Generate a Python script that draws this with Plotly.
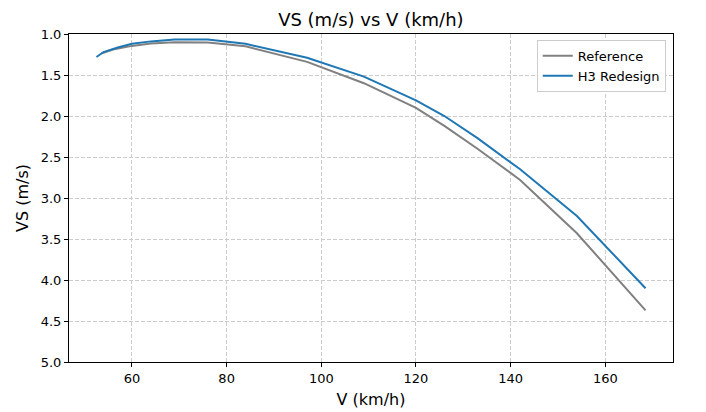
import plotly.graph_objects as go

# Reference series
ref_speed = [53.5, 56, 60, 64, 69, 76, 84, 97, 109, 120, 126, 133, 142, 154, 168.5]
ref_vs = [1.24, 1.19, 1.145, 1.115, 1.10, 1.105, 1.15, 1.34, 1.60, 1.90, 2.12, 2.40, 2.78, 3.43, 4.37]

# H3 redesign series
h3_speed = [52.5, 54, 57, 60, 64, 69, 76, 84, 97, 109, 120, 126, 133, 142, 154, 168.5]
h3_vs = [1.28, 1.22, 1.165, 1.12, 1.09, 1.068, 1.068, 1.12, 1.29, 1.52, 1.81, 2.00, 2.27, 2.65, 3.22, 4.10]

x_ticks = [60, 80, 100, 120, 140, 160]
y_ticks = [1.0, 1.5, 2.0, 2.5, 3.0, 3.5, 4.0, 4.5, 5.0]

fig = go.Figure()
fig.add_trace(go.Scatter(x=ref_speed, y=ref_vs, mode="lines", name="Reference",
                         line=dict(color="#808080", width=2)))
fig.add_trace(go.Scatter(x=h3_speed, y=h3_vs, mode="lines", name="H3 Redesign",
                         line=dict(color="#1f77b4", width=2)))

axis_style = dict(showline=True, linecolor="black", linewidth=1, mirror=True,
                  ticks="outside", ticklen=4, tickcolor="black",
                  showgrid=True, gridcolor="#cccccc", griddash="4px,2px", gridwidth=1,
                  zeroline=False, tickfont=dict(size=13, color="black"))

fig.update_xaxes(range=[46.7, 174.3], tickvals=x_ticks,
                 title=dict(text="V (km/h)", font=dict(size=16, color="black"), standoff=9),
                 **axis_style)
fig.update_yaxes(range=[5.0, 1.0], tickvals=y_ticks, tickformat=".1f",
                 title=dict(text="VS (m/s)", font=dict(size=16, color="black"), standoff=8),
                 **axis_style)

# page body adds an 8px offset, margins account for it
fig.update_layout(
    width=706, height=412,
    margin=dict(l=61, r=41, t=26, b=58),
    paper_bgcolor="white", plot_bgcolor="white",
    font=dict(family="DejaVu Sans", color="black"),
    title=dict(text="VS (m/s) vs V (km/h)", x=0.514, xanchor="center", y=0.971, yanchor="middle",
               font=dict(size=18, color="black")),
    legend=dict(x=0.988, xanchor="right", y=0.982, yanchor="top",
                bordercolor="#cccccc", borderwidth=1, bgcolor="white",
                font=dict(size=13, color="black")),
    showlegend=True,
)

fig.write_html("out.html")
